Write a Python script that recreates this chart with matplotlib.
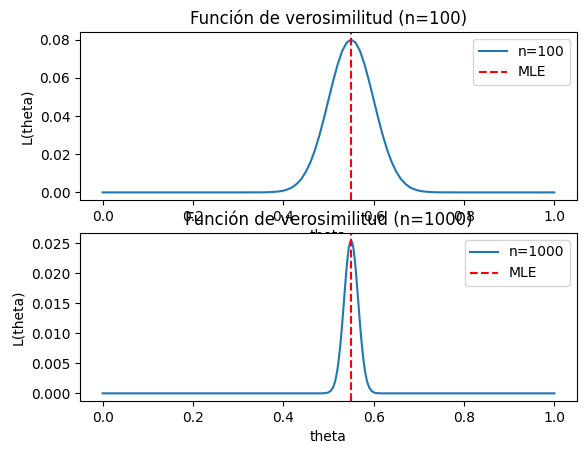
import matplotlib.pyplot as plt

# likelihood, n=100
theta_100 = [0.0, 0.30, 0.35, 0.36, 0.37, 0.38, 0.39, 0.40, 0.41, 0.42, 0.43, 0.44,
             0.45, 0.46, 0.47, 0.48, 0.49, 0.50, 0.51, 0.52, 0.53, 0.54, 0.55,
             0.56, 0.57, 0.58, 0.59, 0.60, 0.61, 0.62, 0.63, 0.64, 0.65, 0.66,
             0.67, 0.68, 0.69, 0.70, 0.71, 0.72, 0.73, 0.74, 0.75, 0.80, 1.0]
lik_100 = [0.0, 0.0, 0.00003, 0.00006, 0.00013, 0.0003, 0.0005, 0.0009, 0.0016,
           0.0027, 0.0045, 0.0071, 0.0108, 0.0158, 0.0222, 0.0300, 0.0389, 0.0485,
           0.0581, 0.0668, 0.0739, 0.0784, 0.0800, 0.0784, 0.0739, 0.0668, 0.0581,
           0.0485, 0.0389, 0.0300, 0.0222, 0.0158, 0.0108, 0.0071, 0.0045, 0.0027,
           0.0016, 0.0009, 0.0005, 0.0003, 0.00013, 0.00006, 0.00003, 0.0, 0.0]

# n=1000
theta_1000 = [0.0, 0.48, 0.49, 0.495, 0.50, 0.505, 0.51, 0.5125, 0.515, 0.5175,
              0.52, 0.5225, 0.525, 0.5275, 0.53, 0.5325, 0.535, 0.5375, 0.54,
              0.5425, 0.545, 0.5475, 0.55, 0.5525, 0.555, 0.5575, 0.56, 0.5625,
              0.565, 0.5675, 0.57, 0.5725, 0.575, 0.5775, 0.58, 0.5825, 0.585,
              0.5875, 0.59, 0.595, 0.60, 0.605, 0.61, 0.62, 1.0]
lik_1000 = [0.0, 0.0, 0.00002, 0.00006, 0.00016, 0.00042, 0.0010, 0.0015, 0.0021,
            0.0030, 0.0041, 0.0055, 0.0072, 0.0091, 0.0113, 0.0137, 0.0161, 0.0185,
            0.0208, 0.0227, 0.0242, 0.0251, 0.0254, 0.0251, 0.0242, 0.0227, 0.0208,
            0.0185, 0.0161, 0.0137, 0.0113, 0.0091, 0.0072, 0.0055, 0.0041, 0.0030,
            0.0021, 0.0015, 0.0010, 0.00042, 0.00016, 0.00006, 0.00002, 0.0, 0.0]

mle = 0.55

fig, (ax1, ax2) = plt.subplots(2, 1, figsize=(5.85, 4.55), dpi=100)
fig.subplots_adjust(left=80/585, right=577/585, top=1 - 32/455,
                    bottom=1 - 401/455, hspace=0.196)

ax1.plot(theta_100, lik_100, label='n=100')
ax1.axvline(mle, color='red', linestyle='--', label='MLE')
ax1.set_title('Función de verosimilitud (n=100)')
ax1.set_xlabel('theta')
ax1.set_ylabel('L(theta)')
ax1.legend(loc='upper right')

ax2.plot(theta_1000, lik_1000, label='n=1000')
ax2.axvline(mle, color='red', linestyle='--', label='MLE')
ax2.set_title('Función de verosimilitud (n=1000)')
ax2.set_xlabel('theta')
ax2.set_ylabel('L(theta)')
ax2.legend(loc='upper right')

plt.savefig('out.png')
